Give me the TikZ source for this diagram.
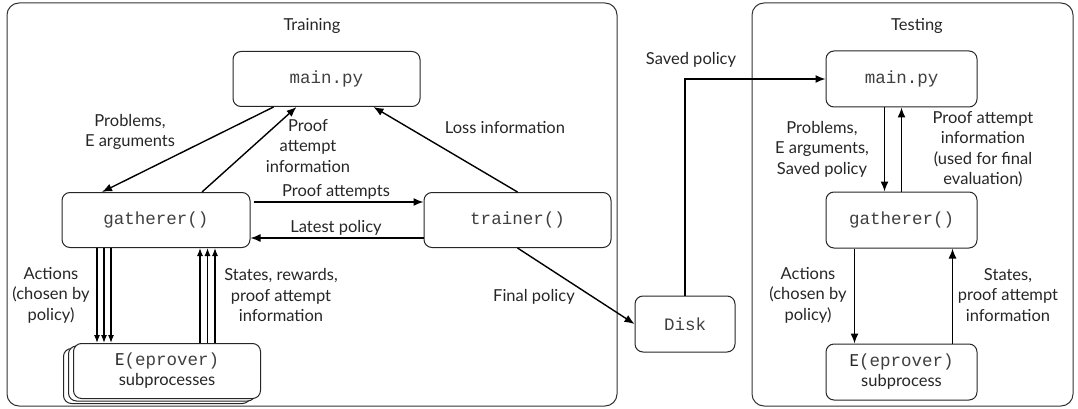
\documentclass[tikz,border=0pt]{standalone}
\usepackage{fontspec}
\setmainfont{Lato}
\setmonofont{Liberation Mono}
\usetikzlibrary{arrows.meta}

\begin{document}
\begin{tikzpicture}[x=1pt, y=-1pt, >={Latex[length=10pt,width=8pt]},
   frame/.style={draw=black!80, rounded corners=12pt, line width=1pt},
   box/.style={draw=black!85, fill=white, rectangle, rounded corners=8pt, minimum width=187pt, minimum height=55pt, line width=1pt, align=center, font=\fontsize{16.5}{20}\selectfont},
   lbl/.style={align=center, font=\fontsize{16.5}{20.5}\selectfont, inner sep=0pt, text=black!85},
   code/.style={font=\ttfamily\fontsize{17.5}{20}\selectfont, text=black!75},
   arr/.style={->, line width=1.4pt},
   tri/.style={->, line width=1.2pt, >={Latex[length=8pt,width=6pt]}}
]
\useasboundingbox (0,0) rectangle (1078,409);

% Frames
\draw[frame] (7,3) rectangle (617,406);
\draw[frame] (752,3) rectangle (1073,406);
\node[lbl] (traintitle) at (312,26) {Training};
\node[lbl] (testtitle) at (917,26) {Testing};

% Training nodes
\node [box, code] (main) at (326.5,79) {main.py};
\node [box, code, minimum width=188pt] (gat) at (156,220) {gatherer()};
\node [box, code] (trn) at (517.5,220) {trainer()};
\node [box] (eback2) at (157,376) {};
\node [box] (eback1) at (162,373.5) {};
\node [box, text=black!85] (eprov) at (167,371) {E{\ttfamily\fontsize{17.5}{20}\selectfont\color{black!75}(eprover)}\\subprocesses};
\node [box, code, minimum width=100pt, minimum height=56pt] (disk) at (685,324) {Disk};

% Testing nodes
\node [box, code, minimum width=151pt, minimum height=56pt] (tmain) at (901.5,79) {main.py};
\node [box, code, minimum width=151pt, minimum height=56pt] (tgat) at (901.5,220) {gatherer()};
\node [box, text=black!85, minimum width=151pt, minimum height=56pt] (tepr) at (901.5,372) {E{\ttfamily\fontsize{17.5}{20}\selectfont\color{black!75}(eprover)}\\subprocess};

% Labels
\node[lbl] (lprob) at (130,132) {Problems,\\E arguments};
\node[lbl] (lproof) at (308,146) {Proof\\attempt\\information};
\node[lbl] (lloss) at (505,128) {Loss information};
\node[lbl] (lattempts) at (336,192) {Proof attempts};
\node[lbl] (llatest) at (336,228) {Latest policy};
\node[lbl] (lfinal) at (534,297) {Final policy};
\node[lbl] (lact) at (51,295) {Actions\\(chosen by\\policy)};
\node[lbl] (lstates) at (281,295) {States, rewards,\\proof attempt\\information};
\node[lbl] (lsaved) at (691,60) {Saved policy};
\node[lbl] (tlprob) at (822,149) {Problems,\\E arguments,\\Saved policy};
\node[lbl] (tlproof) at (983,149) {Proof attempt\\information\\(used for final\\evaluation)};
\node[lbl] (tlact) at (808,295) {Actions\\(chosen by\\policy)};
\node[lbl] (tlstates) at (1008,295) {States,\\proof attempt\\information};

% Arrows (training)
\draw[arr] ([xshift=-53pt]main.south) -- ([xshift=-54pt]gat.north);
\draw[arr] ([xshift=46pt]gat.north) -- ([xshift=-30pt]main.south);
\draw[arr] (trn.north) -- ([xshift=47pt]main.south);
\draw[arr, shorten <=3pt] ([yshift=18pt]gat.east) -- ([yshift=18pt]trn.west);
\draw[arr] ([yshift=-18pt]trn.west) -- ([yshift=-18pt]gat.east);
\foreach \dx in {-59,-52,-45}
  \draw[tri] ([xshift=\dx pt]gat.south) -- ([xshift=\dx pt]gat.south |- eprov.north);
\foreach \dx in {44,51.5,59}
  \draw[tri] ([xshift=\dx pt]gat.south |- eprov.north) -- ([xshift=\dx pt]gat.south);
\draw[arr] (trn.south) -- (disk.west);
\draw[arr] (disk.north) |- (tmain.west);

% Arrows (testing)
\draw[arr] ([xshift=-17pt]tmain.south) -- ([xshift=-17pt]tgat.north);
\draw[arr] (tgat.north) -- (tmain.south);
\draw[arr] ([xshift=-47pt]tgat.south) -- ([xshift=-47pt]tepr.north);
\draw[arr] ([xshift=51pt]tepr.north) -- ([xshift=51pt]tgat.south);
\end{tikzpicture}
\end{document}
